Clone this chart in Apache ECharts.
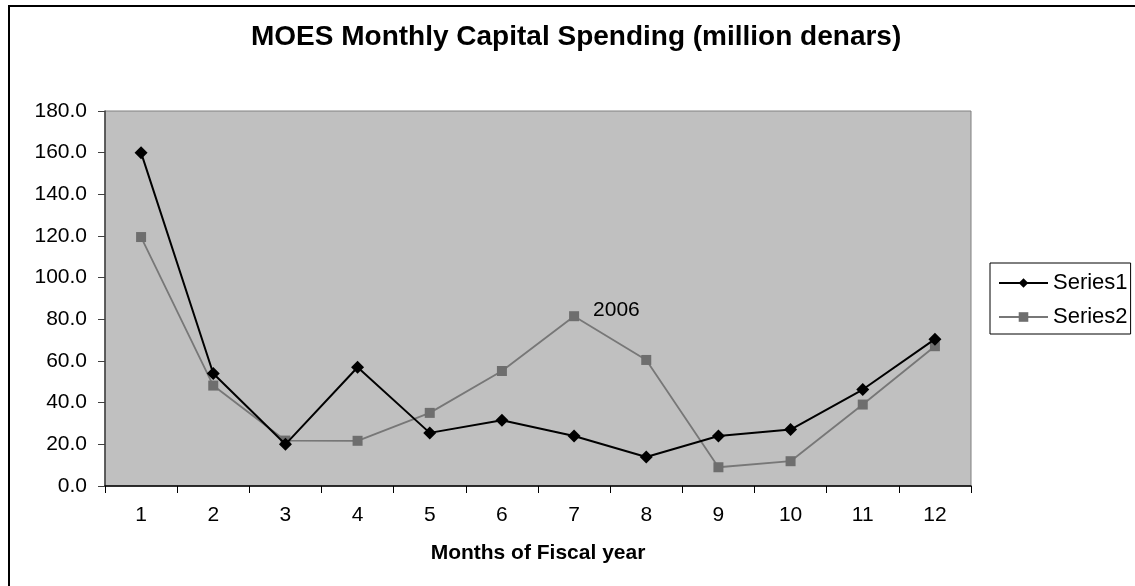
<!DOCTYPE html>
<html>
<head>
<meta charset="utf-8">
<script src="https://cdn.jsdelivr.net/npm/echarts@6/dist/echarts.min.js"></script>
<style>
  html, body { margin: 0; padding: 0; background: #fff; }
  #chart { width: 1135px; height: 586px; }
</style>
</head>
<body>
<div id="chart"></div>
<script>
// Monthly capital spending, million denars
const months = ['1', '2', '3', '4', '5', '6', '7', '8', '9', '10', '11', '12'];
const series1 = [160.0, 54.0, 20.0, 57.0, 25.5, 31.6, 24.0, 13.9, 24.0, 27.1, 46.3, 70.5];
const series2 = [119.5, 48.2, 21.8, 21.7, 35.1, 55.2, 81.5, 60.5, 9.0, 11.9, 39.1, 67.1];
const seriesNames = ['Series1', 'Series2'];
const noteIndex = 6;          // month 7 on Series2 carries the year note
const noteText = '2006';

const FONT = '"Liberation Sans", Arial, sans-serif';

const chart = echarts.init(document.getElementById('chart'), null, { renderer: 'canvas' });

const s2Data = series2.map((v, i) => i === noteIndex
  ? { value: v, label: { show: true, formatter: noteText } }
  : v);

chart.setOption({
  backgroundColor: '#ffffff',
  animation: false,
  title: {
    text: 'MOES Monthly Capital Spending (million denars)',
    left: 251,
    top: 23,
    padding: 0,
    textStyle: { fontFamily: FONT, fontSize: 28, fontWeight: 'bold', color: '#000' }
  },
  graphic: [
    {
      type: 'rect',
      shape: { x: 9, y: 6, width: 1200, height: 700 },
      style: { fill: 'none', stroke: '#000', lineWidth: 2 },
      silent: true,
      z: 0
    }
  ],
  legend: {
    orient: 'vertical',
    left: 990,
    top: 263,
    padding: [9, 3, 6, 8],
    itemWidth: 49,
    itemHeight: 12,
    itemGap: 12,
    borderColor: '#000',
    borderWidth: 1,
    data: seriesNames,
    textStyle: { fontFamily: FONT, fontSize: 22, color: '#000' }
  },
  grid: {
    left: 105,
    right: 164,
    top: 111,
    bottom: 100,
    show: true,
    backgroundColor: '#c0c0c0',
    borderColor: '#808080',
    borderWidth: 1
  },
  xAxis: {
    type: 'category',
    data: months,
    boundaryGap: true,
    name: 'Months of Fiscal year',
    nameLocation: 'middle',
    nameGap: 57,
    nameTextStyle: { fontFamily: FONT, fontSize: 21, fontWeight: 'bold', color: '#000' },
    axisLine: { lineStyle: { color: '#000', width: 1.5 } },
    axisTick: { show: true, alignWithLabel: false, length: 7, inside: false, lineStyle: { color: '#000' } },
    axisLabel: { margin: 19, fontFamily: FONT, fontSize: 21, color: '#000' },
    splitLine: { show: false }
  },
  yAxis: {
    type: 'value',
    min: 0,
    max: 180,
    interval: 20,
    axisLine: { show: true, lineStyle: { color: '#404040', width: 1.5 } },
    axisTick: { show: true, length: 7, lineStyle: { color: '#404040' } },
    axisLabel: {
      margin: 18,
      fontFamily: FONT,
      fontSize: 21,
      color: '#000',
      formatter: v => v.toFixed(1)
    },
    splitLine: { show: false }
  },
  series: [
    {
      name: seriesNames[0],
      type: 'line',
      data: series1,
      symbol: 'diamond',
      symbolSize: 13,
      itemStyle: { color: '#000' },
      lineStyle: { color: '#000', width: 2 },
      z: 3
    },
    {
      name: seriesNames[1],
      type: 'line',
      data: s2Data,
      symbol: 'rect',
      symbolSize: 10,
      itemStyle: { color: '#6e6e6e' },
      lineStyle: { color: '#777777', width: 1.8 },
      label: {
        show: false,
        position: 'right',
        distance: 14,
        offset: [0, -6],
        fontFamily: FONT,
        fontSize: 21,
        color: '#000'
      },
      z: 2
    }
  ]
});
</script>
</body>
</html>
